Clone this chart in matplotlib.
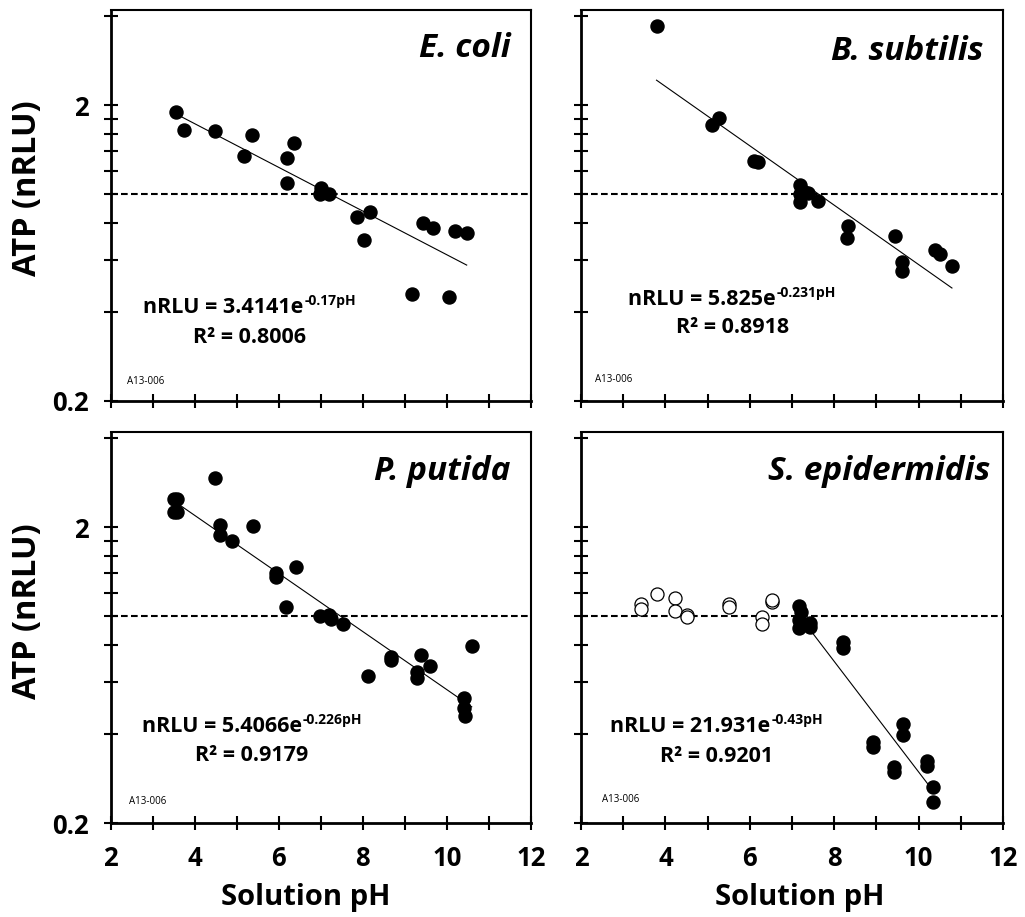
import matplotlib
matplotlib.use("Agg")
import matplotlib.pyplot as plt
import numpy as np
from matplotlib.transforms import ScaledTranslation

plt.rcParams["font.family"] = ["Open Sans", "DejaVu Sans"]

# ---------------- data ----------------
ph_ticks = [2, 3, 4, 5, 6, 7, 8, 9, 10, 11, 12]
ph_labels = ["2", "", "4", "", "6", "", "8", "", "10", "", "12"]
atp_ticks = [0.2, 0.4, 0.6, 0.8, 1.0, 1.2, 1.4, 1.6, 1.8, 2.0, 4.0]
atp_labels = ["0.2", "", "", "", "", "", "", "", "", "2", ""]
baseline_atp = 1.0

ecoli_ph = [3.55, 3.74, 4.48, 5.37, 5.17, 6.35, 6.20, 6.19, 7.00, 6.97, 7.19,
            7.87, 8.18, 8.02, 9.43, 9.68, 10.20, 10.47, 9.16, 10.06]
ecoli_atp = [1.90, 1.65, 1.63, 1.59, 1.35, 1.49, 1.32, 1.09, 1.05, 1.00, 1.00,
             0.84, 0.87, 0.70, 0.80, 0.77, 0.75, 0.74, 0.46, 0.45]
ecoli_fit = [3.4141, -0.17, 0.8006]
ecoli_span = [3.55, 10.47]

bsub_ph = [3.79, 5.11, 5.27, 6.10, 6.20, 7.20, 7.20, 7.20, 7.39, 7.61, 8.32,
           8.30, 9.45, 9.61, 9.60, 10.39, 10.51, 10.79]
bsub_atp = [3.70, 1.71, 1.81, 1.29, 1.28, 1.07, 1.00, 0.94, 1.01, 0.95, 0.78,
            0.71, 0.72, 0.59, 0.55, 0.65, 0.63, 0.57]
bsub_fit = [5.825, -0.231, 0.8918]
bsub_span = [3.79, 10.79]

pput_ph = [3.50, 3.58, 3.50, 3.58, 4.48, 4.60, 4.60, 4.89, 5.39, 5.94, 5.94,
           6.40, 6.16, 6.99, 7.19, 7.24, 7.53, 8.66, 8.66, 8.13, 9.39, 9.28,
           9.28, 9.60, 10.59, 10.41, 10.41, 10.43]
pput_atp = [2.48, 2.48, 2.24, 2.24, 2.94, 2.04, 1.88, 1.79, 2.01, 1.40, 1.36,
            1.47, 1.07, 1.00, 1.01, 0.98, 0.94, 0.73, 0.71, 0.63, 0.74, 0.65,
            0.62, 0.68, 0.79, 0.53, 0.49, 0.46]
pput_fit = [5.4066, -0.226, 0.9179]
pput_span = [3.54, 10.59]

sepi_open_ph = [3.42, 3.42, 3.81, 4.23, 4.23, 4.52, 4.52, 5.51, 5.51, 6.28,
                6.28, 6.53, 6.53]
sepi_open_atp = [1.10, 1.06, 1.19, 1.15, 1.04, 1.01, 0.99, 1.10, 1.07, 0.99,
                 0.94, 1.12, 1.13]
sepi_ph = [7.16, 7.22, 7.16, 7.16, 7.43, 7.43, 8.22, 8.22, 8.91, 8.91, 9.62,
           9.62, 9.42, 9.42, 10.21, 10.21, 10.33, 10.33]
sepi_atp = [1.08, 1.03, 0.97, 0.91, 0.945, 0.92, 0.82, 0.78, 0.377, 0.36,
            0.432, 0.397, 0.31, 0.298, 0.325, 0.312, 0.265, 0.236]
sepi_fit = [21.931, -0.43, 0.9201]
sepi_span = [7.43, 10.21]

titles = ["E. coli", "B. subtilis", "P. putida", "S. epidermidis"]
run_id = "A13-006"

# ---------------- figure ----------------
W, H = 1025, 917
fig = plt.figure(figsize=(W / 100, H / 100), dpi=100)


def px_axes(x0, y0, x1, y1):
    return fig.add_axes([x0 / W, 1 - y1 / H, (x1 - x0) / W, (y1 - y0) / H])


axes = [
    px_axes(110.7, 10, 531, 401),
    px_axes(581, 10, 1003, 401),
    px_axes(110.7, 432, 531, 823),
    px_axes(581, 432, 1003, 823),
]

panels = [
    (ecoli_ph, ecoli_atp, None, None, ecoli_fit, ecoli_span),
    (bsub_ph, bsub_atp, None, None, bsub_fit, bsub_span),
    (pput_ph, pput_atp, None, None, pput_fit, pput_span),
    (sepi_ph, sepi_atp, sepi_open_ph, sepi_open_atp, sepi_fit, sepi_span),
]

# text placement per panel (axes fractions)
eq_centers = [(0.33, 0.225, 0.148), (0.358, 0.245, 0.174),
              (0.336, 0.234, 0.159), (0.321, 0.234, 0.157)]
title_pos = [(0.952, 0.880), (0.953, 0.872), (0.952, 0.877), (0.970, 0.877)]
id_pos = [(0.039, 0.051), (0.033, 0.054), (0.044, 0.056), (0.049, 0.061)]

ms = 9.4
eq_items = []
for i, (ax, (px, py, ox, oy, fit, span)) in enumerate(zip(axes, panels)):
    ax.set_yscale("log")
    ax.set_xlim(2, 12)
    ax.set_ylim(0.2, 4.19)

    ax.axhline(baseline_atp, color="black", lw=1.5, dashes=(3.2, 1.6), zorder=2)

    a, b, r2 = fit
    xs = np.linspace(span[0], span[1], 100)
    ax.plot(xs, a * np.exp(b * xs), color="black", lw=0.8, zorder=3)

    if ox is not None:
        ax.plot(ox, oy, "o", ms=ms, mfc="white", mec="black", mew=0.9,
                ls="none", zorder=4)
    ax.plot(px, py, "o", ms=ms, mfc="black", mec="black", ls="none", zorder=5)

    ax.set_xticks(ph_ticks, ph_labels)
    ax.set_yticks(atp_ticks, atp_labels)
    ax.yaxis.set_minor_locator(matplotlib.ticker.NullLocator())
    ax.tick_params(axis="both", which="major", direction="inout", length=10,
                   width=1.5, labelsize=18.5, color="black")
    ax.tick_params(axis="x", pad=11)
    ax.tick_params(axis="y", pad=11)
    if i < 2:
        ax.tick_params(axis="x", labelbottom=False)
    if i % 2 == 1:
        ax.tick_params(axis="y", labelleft=False)
    for lab in ax.get_xticklabels() + ax.get_yticklabels():
        lab.set_fontweight("bold")
    for side in ["top", "right"]:
        ax.spines[side].set_linewidth(1.5)
    for side in ["left", "bottom"]:
        ax.spines[side].set_linewidth(2.0)

    tx, ty = title_pos[i]
    ax.text(tx, ty, titles[i], transform=ax.transAxes, ha="right",
            va="baseline", fontsize=24, fontweight="bold", style="italic")

    ix, iy = id_pos[i]
    ax.text(ix, iy, run_id, transform=ax.transAxes, ha="left", va="center",
            fontsize=7)

    cx, ey, ry = eq_centers[i]
    base = ax.text(cx, ey, f"nRLU = {a}e", transform=ax.transAxes,
                   ha="left", va="baseline", fontsize=15.5, fontweight="bold")
    sup = ax.text(cx, ey, f"{b}pH", transform=ax.transAxes, ha="left",
                  va="baseline", fontsize=10, fontweight="bold")
    ax.text(cx, ry, f"R\u00b2 = {r2}", transform=ax.transAxes, ha="center",
            va="baseline", fontsize=15.5, fontweight="bold")
    eq_items.append((ax, base, sup, cx, ey))

# axis titles
for yc in (188, 611):
    fig.text(28 / W, 1 - yc / H, "ATP (nRLU)", rotation=90, ha="center",
             va="center", fontsize=23.5, fontweight="bold")
for xc in (306, 800):
    fig.text(xc / W, 1 - 897 / H, "Solution pH", ha="center", va="center",
             fontsize=21, fontweight="bold")

# centre each equation (base + superscript) on its R² line
fig.canvas.draw()
renderer = fig.canvas.get_renderer()
for ax, base, sup, cx, ey in eq_items:
    wb = base.get_window_extent(renderer).width
    ws = sup.get_window_extent(renderer).width
    total = wb + ws + 1
    shift = -total / 2 / fig.dpi
    base.set_transform(ax.transAxes + ScaledTranslation(shift, 0, fig.dpi_scale_trans))
    sup.set_transform(ax.transAxes + ScaledTranslation(
        shift + (wb + 1) / fig.dpi, 8 / fig.dpi, fig.dpi_scale_trans))

fig.savefig("out.png", dpi=100)
